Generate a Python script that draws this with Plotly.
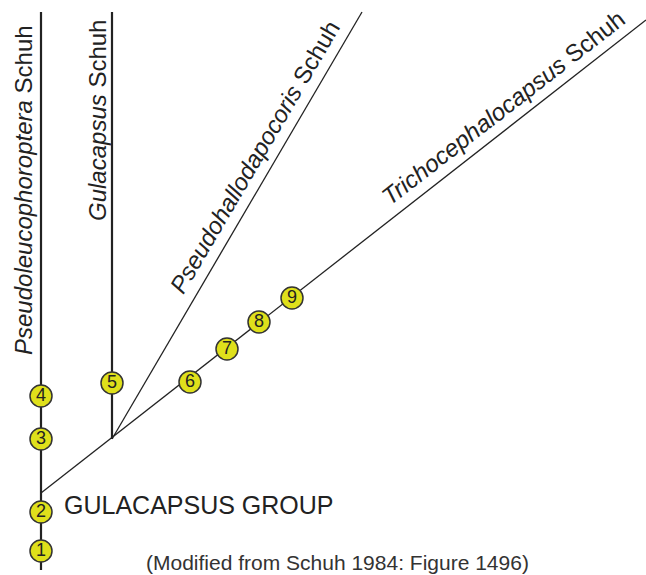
import plotly.graph_objects as go

# Cladogram layout (coordinates in figure pixel units, y downward)
root = (41, 493)
node2 = (112, 439)
# branch tips
tip_pseudoleuco = (41, 12)
tip_gulacapsus = (112, 12)
tip_pseudohallo = (362, 12)
tip_tricho = (646, 20)
base_bottom = (41, 570)

# character state circles
char_labels = ["1", "2", "3", "4", "5", "6", "7", "8", "9"]
char_x = [41, 41, 41, 41, 112, 190, 227, 259, 292]
char_y = [551, 512, 439, 396, 383, 382, 349, 322, 298]

taxa = ["Pseudoleucophoroptera", "Gulacapsus", "Pseudohallodapocoris", "Trichocephalocapsus"]

fig = go.Figure()

def seg(p, q, w):
    fig.add_trace(go.Scatter(x=[p[0], q[0]], y=[p[1], q[1]], mode="lines",
                             line=dict(color="#222222", width=w), hoverinfo="skip",
                             showlegend=False))

seg(base_bottom, tip_pseudoleuco, 2.2)
seg(node2, tip_gulacapsus, 2.2)
seg(root, tip_tricho, 1.3)
seg(node2, tip_pseudohallo, 1.3)

fig.add_trace(go.Scatter(x=char_x, y=char_y, mode="markers+text", text=char_labels,
                         textposition="middle center",
                         textfont=dict(family="Liberation Sans, Arial", size=18, color="#222222"),
                         marker=dict(size=22, color="#dfe01b", line=dict(color="#333333", width=1.5)),
                         hoverinfo="skip", showlegend=False))

font_big = dict(family="Liberation Sans, Arial", size=24, color="#222222")

ann = []
ann.append(dict(x=23, y=190, text="<i>%s</i> Schuh" % taxa[0], textangle=-90, font=font_big))
ann.append(dict(x=97, y=121, text="<i>%s</i> Schuh" % taxa[1], textangle=-90, font=font_big))
ann.append(dict(x=254, y=157, text="<i>%s</i> Schuh" % taxa[2], textangle=-59.6, font=font_big))
ann.append(dict(x=503, y=107, text="<i>%s</i> Schuh" % taxa[3], textangle=-37.8, font=font_big))
ann.append(dict(x=199, y=505, text="GULACAPSUS GROUP", font=dict(family="Liberation Sans, Arial", size=25, color="#222222")))
ann.append(dict(x=337, y=562, text="(Modified from Schuh 1984: Figure 1496)", font=dict(family="Liberation Sans, Arial", size=21, color="#333333")))
for a in ann:
    a.update(xref="x", yref="y", showarrow=False, xanchor="center", yanchor="middle")

fig.update_layout(
    width=646, height=575, margin=dict(l=0, r=0, t=0, b=0),
    plot_bgcolor="white", paper_bgcolor="white",
    xaxis=dict(range=[0, 646], visible=False, fixedrange=True),
    yaxis=dict(range=[575, 0], visible=False, fixedrange=True),
    annotations=ann,
)

fig.write_html("out.html", config={"displayModeBar": False},
               post_script="document.body.style.margin='0px';")
